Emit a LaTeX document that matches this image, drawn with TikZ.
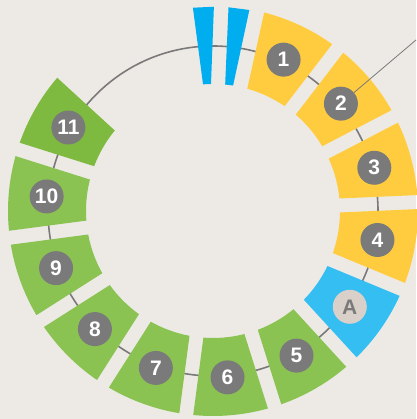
\documentclass[tikz,border=0pt]{standalone}
\usepackage{fontspec}
\setmainfont{Liberation Sans}
\usepackage{xcolor}
\definecolor{paper}{RGB}{237,234,229}
\definecolor{sunyellow}{RGB}{255,204,64}
\definecolor{leafgreen}{RGB}{139,195,82}
\definecolor{darkleaf}{RGB}{127,186,64}
\definecolor{skyblue}{RGB}{52,190,242}
\definecolor{markblue}{RGB}{0,174,239}
\definecolor{dotgray}{RGB}{122,122,122}
\definecolor{dotbeige}{RGB}{217,208,202}

\begin{document}
\begin{tikzpicture}[x=1pt,y=1pt,
    numdot/.style={circle,fill=dotgray,minimum size=34pt,inner sep=0pt,
      text=white,font=\fontsize{21}{21}\selectfont\bfseries}]
  \fill[paper] (-213,-208) rectangle (203,211);
  \useasboundingbox (-213,-208) rectangle (203,211);

  % ring line
  \draw[dotgray,line width=1.6pt] (0,0) circle[radius=165pt];

  % ring segments
  \foreach \a/\c in {65/sunyellow,40/sunyellow,15/sunyellow,-10/sunyellow,
      -35/skyblue,-60/leafgreen,-85/leafgreen,-110/leafgreen,-135/leafgreen,
      -160/leafgreen,-185/leafgreen,-210/darkleaf}
    \fill[\c] ({\a+9.34}:127pt)
      arc[start angle=\a+9.34,end angle=\a-9.34,radius=127pt]
      -- ({\a-10.54}:205pt)
      arc[start angle=\a-10.54,end angle=\a+10.54,radius=205pt] -- cycle;

  % start marks
  \foreach \b in {92.7,82.7}
    \fill[markblue,rotate=\b] (127,-4) -- (204,-10.5) -- (204,10.5)
      -- (127,4) -- cycle;

  \node[numdot] (n1) at (65:167pt) {1};
  \node[numdot] (n2) at (40:167pt) {2};
  \node[numdot] (n3) at (15:167pt) {3};
  \node[numdot] (n4) at (-10:167pt) {4};
  \node[numdot,fill=dotbeige,text=dotgray] (nA) at (-35:167pt) {A};
  \node[numdot] (n5) at (-60:167pt) {5};
  \node[numdot] (n6) at (-85:167pt) {6};
  \node[numdot] (n7) at (-110:167pt) {7};
  \node[numdot] (n8) at (-135:167pt) {8};
  \node[numdot] (n9) at (-160:167pt) {9};
  \node[numdot] (n10) at (-185:167pt) {10};
  \node[numdot] (n11) at (-210:167pt) {11};

  \coordinate (rim) at (203,171);
  \draw[dotgray,line width=0.8pt] (n2) -- (rim);
\end{tikzpicture}
\end{document}
